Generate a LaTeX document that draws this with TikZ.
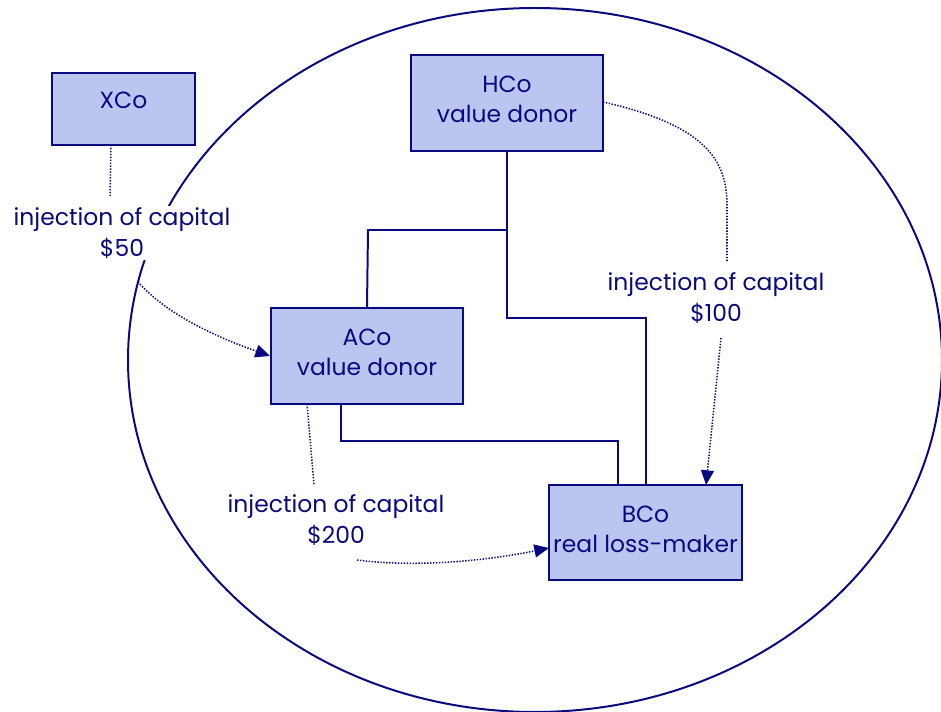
\documentclass[tikz,border=0pt]{standalone}
\usepackage{fontspec}
\setmainfont{Poppins}
\usetikzlibrary{arrows.meta}

\definecolor{navyline}{RGB}{10,10,128}
\definecolor{cofill}{RGB}{188,196,240}

\tikzset{
  company/.style={draw=navyline, fill=cofill, line width=1.7pt, align=center,
    text=navyline, font=\fontsize{20}{25.5}\selectfont, inner sep=0pt},
  flowlabel/.style={align=center, text=navyline,
    font=\fontsize{20}{26.5}\selectfont, inner sep=1pt},
  owns/.style={draw=navyline, line width=1.7pt},
  inject/.style={draw=navyline, line width=1.3pt, dash pattern=on 1.2pt off 1.3pt},
  injectarrow/.style={inject, -{Triangle[length=12.5pt, width=11pt]}}
}

\begin{document}
\begin{tikzpicture}[x=0.03cm, y=-0.03cm]
            \useasboundingbox (0,0) rectangle (941,712);

            % group boundary
            \draw [owns] (535,360) ellipse [x radius=407, y radius=352];

            % companies
            \node [company, minimum width=4.29cm, minimum height=2.16cm, text depth=0.5cm] (xco) at (123.5,109) {XCo};
            \node [company, minimum width=5.76cm, minimum height=2.88cm, text depth=0.25cm] (hco) at (507,103) {HCo\\value donor};
            \node [company, minimum width=5.76cm, minimum height=2.88cm, text depth=0.2cm] (aco) at (367,356) {ACo\\value donor};
            \node [company, minimum width=5.79cm, minimum height=2.85cm, text depth=0.2cm] (bco) at (645.5,532.5) {BCo\\real loss-maker};

            % ownership lines
            \draw [owns] (hco.south) |- (368,230) -- (aco.north);
            \draw [owns] (hco.south) |- (646,318) -- (646,485);
            \draw [owns] (341,404) |- (618,441) -- (618,485);

            % capital injections
            \node [flowlabel, fill=white] (lblx) at (122,233) {injection of capital\\\$50};
            \node [flowlabel] (lblh) at (716,298) {injection of capital\\\$100};
            \node [flowlabel] (lbla) at (336,520) {injection of capital\\\$200};

            \coordinate (xtop) at (111,145);
            \coordinate (xend) at (110,197);
            \coordinate (xout) at (138,282);
            \draw [inject] (xtop) -- (xend);
            \draw [injectarrow] (xout) .. controls (170,318) and (225,340) .. (aco.west);

            \coordinate (hout) at (603,102);
            \coordinate (hend) at (727,262);
            \coordinate (hnext) at (721,338);
            \coordinate (bhit) at (706,485);
            \draw [inject] (hout) .. controls (705,125) and (727,160) .. (727,205) -- (hend);
            \draw [injectarrow] (hnext) -- (bhit);

            \coordinate (atop) at (307,404);
            \coordinate (aend) at (314,485);
            \coordinate (aout) at (357,560);
            \coordinate (bleft) at (549,548);
            \draw [inject] (atop) -- (aend);
            \draw [injectarrow] (aout) .. controls (420,568) and (490,560) .. (bleft);
        \end{tikzpicture}
\end{document}
